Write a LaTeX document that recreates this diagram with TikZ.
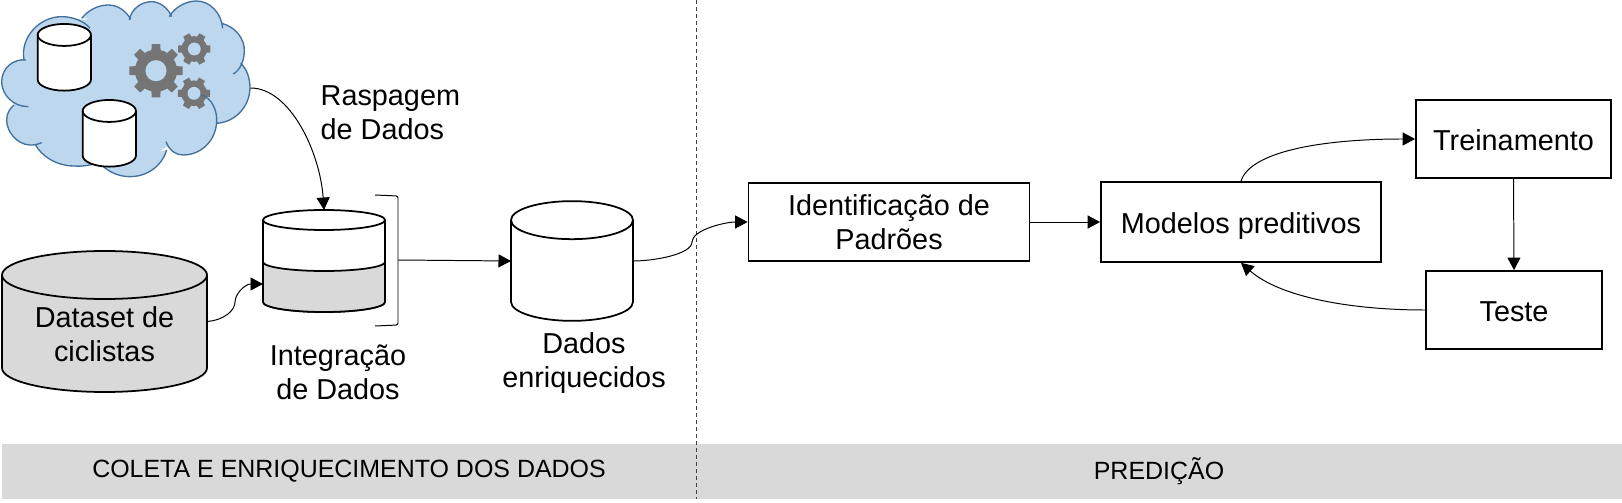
\documentclass[tikz,border=0pt]{standalone}
\usepackage{fontspec}
\setmainfont{Liberation Sans}
\usetikzlibrary{arrows.meta}

\definecolor{cloudblue}{HTML}{BDD7EE}
\definecolor{cloudline}{HTML}{41719C}
\definecolor{geargray}{HTML}{757575}
\definecolor{bandgray}{HTML}{D9D9D9}

\tikzset{
	boxnode/.style={draw, line width=.5pt, minimum height=.78cm, inner sep=0pt, align=center, font=\fontsize{8.2}{9.7}\selectfont},
	oneline/.style={text height=.225cm, text depth=0pt},
	labelnode/.style={inner sep=0pt, align=center, font=\fontsize{8.2}{9.7}\selectfont},
	bandnode/.style={fill=bandgray, minimum height=.55cm, inner sep=0pt, font=\fontsize{7.1}{8.4}\selectfont},
	cylline/.style={draw, line width=.5pt},
	conn/.style={line width=.28pt, -{Triangle[length=.125cm,width=.13cm]}},
	pics/gearicon/.style={code={
		\fill[geargray] (0,0) circle (.78);
		\pgfmathsetmacro{\gearstep}{360/#1}
		\foreach \i in {1,...,#1}{
			\pgfmathsetmacro{\gearang}{\i*\gearstep}
			\fill[geargray] (\gearang-.3*\gearstep:.74) -- (\gearang-.2*\gearstep:1) -- (\gearang+.2*\gearstep:1) -- (\gearang+.3*\gearstep:.74) -- cycle;
		}
		\fill[cloudblue] (0,0) circle (.39);
	}}
}

% nome, posicao, largura, altura, raio da elipse, cor
\newcommand{\cylnode}[6]{
	\path (#2) node[minimum width=#3cm, minimum height=#4cm, inner sep=0pt, outer sep=0pt] (#1){};
	\path[cylline, fill=#6] ([yshift=-#5cm]#1.north west) arc[start angle=180, end angle=0, x radius=#3cm/2, y radius=#5cm] -- ([yshift=#5cm]#1.south east) arc[start angle=0, end angle=-180, x radius=#3cm/2, y radius=#5cm] -- cycle;
	\path[cylline] ([yshift=-#5cm]#1.north west) arc[start angle=180, end angle=360, x radius=#3cm/2, y radius=#5cm];
}

\newcommand{\cloudlobes}{
	(72,180) .. controls (60,110) and (120,50) .. (185,50) .. controls (220,50) and (255,65) .. (270,85)
	(245,55) .. controls (265,30) and (295,15) .. (325,15) .. controls (355,15) and (380,35) .. (392,58)
	(388,60) .. controls (395,25) and (425,5) .. (455,5) .. controls (480,5) and (505,25) .. (515,50)
	(508,50) .. controls (525,20) and (560,3) .. (590,3) .. controls (630,3) and (665,40) .. (668,85)
	(665,70) .. controls (705,80) and (735,115) .. (733,155) .. controls (732,185) and (720,210) .. (700,222)
	(722,190) .. controls (740,205) and (750,235) .. (750,262) .. controls (750,320) and (705,368) .. (648,370)
	(605,285) .. controls (635,295) and (652,330) .. (650,365) .. controls (648,420) and (605,465) .. (550,465) .. controls (530,465) and (510,455) .. (498,425)
	(500,450) .. controls (485,500) and (440,530) .. (390,530) .. controls (355,530) and (325,515) .. (305,495)
	(290,490) .. controls (265,497) and (240,500) .. (220,498) .. controls (170,497) and (125,470) .. (105,432)
	(125,428) .. controls (115,433) and (100,436) .. (88,435) .. controls (50,432) and (20,395) .. (20,360) .. controls (20,340) and (30,325) .. (42,315)
	(85,320) .. controls (40,320) and (5,285) .. (5,245) .. controls (5,205) and (40,175) .. (78,180)
}

\begin{document}
\begin{tikzpicture}
	\useasboundingbox (0,0) rectangle (16.22,5.02);

	% faixas de baixo
	\path (3.49,.305) node[bandnode, minimum width=6.94cm] (coleta){COLETA E ENRIQUECIMENTO DOS DADOS}
	(11.59,.305) node[bandnode, minimum width=9.26cm] (predicao){PREDIÇÃO};

	\coordinate (sepTop) at (6.963,5.02);
	\coordinate (sepBottom) at (6.963,.03);
	\draw[line width=.28pt, dash pattern=on .04cm off .03cm, black!75] (sepTop) -- (sepBottom);

	% nuvem
	\begin{scope}[shift={(0,5.02)}, x=1cm/300, y=-1cm/300]
		\fill[cloudblue] (72,180) -- (185,50) -- (255,60) -- (325,15) -- (390,58) -- (455,5) -- (510,50) -- (590,3) -- (665,70) -- (733,155) -- (722,190) -- (750,262) -- (648,370) -- (550,465) -- (498,440) -- (390,530) -- (300,490) -- (220,498) -- (105,432) -- (88,435) -- (20,360) -- (42,315) -- (5,245) -- cycle;
		\fill[cloudblue] \cloudlobes;
	\end{scope}
	\pic at (1.56,4.313) [scale=.27] {gearicon=8};
	\pic at (1.943,4.53) [scale=.165] {gearicon=6};
	\pic at (1.94,4.087) [scale=.165] {gearicon=6};
	\begin{scope}[shift={(0,5.02)}, x=1cm/300, y=-1cm/300]
		\draw[cloudline, line width=.38pt] \cloudlobes;
	\end{scope}
	\coordinate (cloudOut) at (2.505,4.14);

	\cylnode{base1}{.643,4.447}{.533}{.667}{.11}{white}
	\cylnode{base2}{1.093,3.687}{.533}{.667}{.11}{white}

	% cilindros
	\cylnode{dataset}{1.045,1.805}{2.05}{1.41}{.24}{bandgray}
	\cylnode{integracao}{3.24,2.41}{1.22}{1.02}{.10}{white}
	\cylnode{enriquecidos}{5.72,2.41}{1.22}{1.197}{.19}{white}
	\draw[line width=.5pt, fill=bandgray] (2.63,2.40) arc[start angle=180, end angle=360, x radius=.61, y radius=.09] -- (3.85,2.00) arc[start angle=0, end angle=-180, x radius=.61, y radius=.10] -- cycle;
	\coordinate (integracaoIn) at (2.63,2.18);

	\path (1.045,1.677) node[labelnode] (datasetLabel){Dataset de\\ciclistas}
	(3.20,3.89) node[labelnode, anchor=west, align=left] (raspagem){Raspagem\\de Dados}
	(3.38,1.30) node[labelnode] (integracaoLabel){Integração\\de Dados}
	(5.84,1.39) node[labelnode] (enriquecidosLabel){Dados\\enriquecidos};

	% colchete
	\coordinate (bracketOut) at (3.98,2.42);
	\draw[line width=.28pt, rounded corners=.02cm] (3.75,3.07) -- (3.98,3.06) -- (3.98,1.77) -- (3.75,1.76);

	% caixas
	\path (8.89,2.80) node[boxnode, minimum width=2.81cm] (padroes){Identificação de\\Padrões}
	(12.41,2.80) node[boxnode, oneline, minimum width=2.80cm, minimum height=.80cm] (modelos){Modelos preditivos}
	(15.135,3.63) node[boxnode, oneline, minimum width=1.95cm] (treino){Treinamento}
	(15.14,1.92) node[boxnode, oneline, minimum width=1.76cm] (teste){Teste};

	\draw[conn] (cloudOut) .. controls (2.9,4.14) and (3.2,3.5) .. (integracao.north);
	\draw[conn] (dataset.east) .. controls (2.25,1.82) and (2.35,1.92) .. (2.35,2.00) .. controls (2.35,2.08) and (2.45,2.18) .. (integracaoIn);
	\draw[conn] (bracketOut) -- (enriquecidos.west);
	\draw[conn] (enriquecidos.east) .. controls (6.55,2.41) and (6.92,2.48) .. (6.92,2.60) .. controls (6.92,2.72) and (7.25,2.80) .. (padroes.west);
	\draw[conn] (padroes.east) -- (modelos.west);
	\draw[conn] (modelos.north) .. controls (12.5,3.5) and (13.2,3.63) .. (treino.west);
	\draw[conn] (treino.south) -- (teste.north);
	\draw[conn] (teste.west) .. controls (13.5,1.92) and (12.8,2.05) .. (modelos.south);
\end{tikzpicture}
\end{document}
